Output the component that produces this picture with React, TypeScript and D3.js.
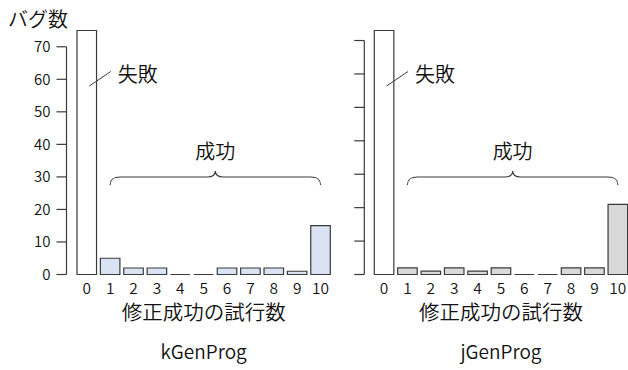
import React from "react";
import * as d3 from "d3";

const categories = ["0", "1", "2", "3", "4", "5", "6", "7", "8", "9", "10"];
const kGenProgValues = [75, 5, 2, 2, 0, 0, 2, 2, 2, 1, 15];
const jGenProgValues = [73, 2, 1, 2, 1, 2, 0, 0, 2, 2, 21];
const yTicks = [0, 10, 20, 30, 40, 50, 60, 70];

const FONT = "'Noto Sans CJK JP', 'Noto Sans', sans-serif";
const TEXT = "#111111";
const STROKE = "#3a3a3a";
const W = 350;

type PanelProps = {
  values: number[];
  x0: number;
  x1: number;
  axisX: number;
  fill: string;
  title: string;
  showLabels: boolean;
};

function Panel({ values, x0, x1, axisX, fill, title, showLabels }: PanelProps) {
  const yBase = 274.5;
  const yTop = 30.5;
  const x = d3.scaleBand<string>().domain(categories).range([x0, x1]).paddingInner(0.164).paddingOuter(0);
  const y = d3.scaleLinear().domain([0, d3.max(values) as number]).range([yBase, yTop]);
  const bw = x.bandwidth();
  const c = (k: string) => (x(k) as number) + bw / 2;
  const mid = (c(categories[1]) + c(categories[10])) / 2;
  const b1 = c(categories[1]);
  const b10 = c(categories[10]);
  const by = 177;
  const brace = `M${b1},185 C${b1},179 ${b1 + 3},${by} ${b1 + 10},${by} H${mid - 8} C${mid - 3},${by} ${mid},${by - 2} ${mid},${by - 6} C${mid},${by - 2} ${mid + 3},${by} ${mid + 8},${by} H${b10 - 10} C${b10 - 3},${by} ${b10},179 ${b10},185`;
  const c0 = c(categories[0]);
  const center = (x0 + x1) / 2;
  return (
    <g>
      <line x1={axisX} x2={axisX} y1={y(0)} y2={y(70)} stroke={STROKE} strokeWidth={1.2} />
      {yTicks.map((t) => (
        <g key={t}>
          <line x1={axisX - 10} x2={axisX} y1={y(t)} y2={y(t)} stroke={STROKE} strokeWidth={1.2} />
          {showLabels && (
            <text x={axisX - 16} y={y(t)} dy="0.35em" textAnchor="end" fontSize={15} fontWeight={W} fill={TEXT} fontFamily={FONT}>
              {t}
            </text>
          )}
        </g>
      ))}
      {values.map((v, i) => {
        const k = categories[i];
        const bx = x(k) as number;
        const top = y(v);
        return (
          <path
            key={k}
            d={`M${bx},${yBase} V${top} H${bx + bw} V${yBase} Z`}
            fill={i === 0 ? "#ffffff" : fill}
            stroke={STROKE}
            strokeWidth={1.2}
          />
        );
      })}
      {categories.map((k) => (
        <text key={k} x={c(k)} y={294} textAnchor="middle" fontSize={15.5} fontWeight={W} fill={TEXT} fontFamily={FONT}>
          {k}
        </text>
      ))}
      <text x={center} y={320} textAnchor="middle" fontSize={20.5} fontWeight={W} fill={TEXT} fontFamily={FONT}>
        修正成功の試行数
      </text>
      <text x={center} y={359} textAnchor="middle" fontSize={19} fontWeight={W} fill={TEXT} fontFamily={FONT}>
        {title}
      </text>
      <line x1={c0 + 2.5} y1={86} x2={c0 + 24} y2={71.5} stroke={STROKE} strokeWidth={1} />
      <text x={c0 + 31} y={75} dy="0.35em" fontSize={20} fontWeight={W} fill={TEXT} fontFamily={FONT}>
        失敗
      </text>
      <path d={brace} fill="none" stroke={STROKE} strokeWidth={1.1} />
      <text x={mid} y={152} dy="0.35em" textAnchor="middle" fontSize={20} fontWeight={W} fill={TEXT} fontFamily={FONT}>
        成功
      </text>
    </g>
  );
}

export default function App() {
  return (
    <svg
      width={628}
      height={370}
      viewBox="0 0 628 370"
      style={{ position: "absolute", left: 0, top: 0, background: "#ffffff" }}
    >
      <rect x={0} y={0} width={628} height={370} fill="#ffffff" />
      <text x={8} y={20} dy="0.35em" fontSize={20} fontWeight={W} fill={TEXT} fontFamily={FONT}>
        バグ数
      </text>
      <Panel values={kGenProgValues} x0={77} x1={330.3} axisX={66.5} fill="#dae3f3" title="kGenProg" showLabels={true} />
      <Panel values={jGenProgValues} x0={374.3} x1={627.6} axisX={364.3} fill="#d9d9d9" title="jGenProg" showLabels={false} />
    </svg>
  );
}
